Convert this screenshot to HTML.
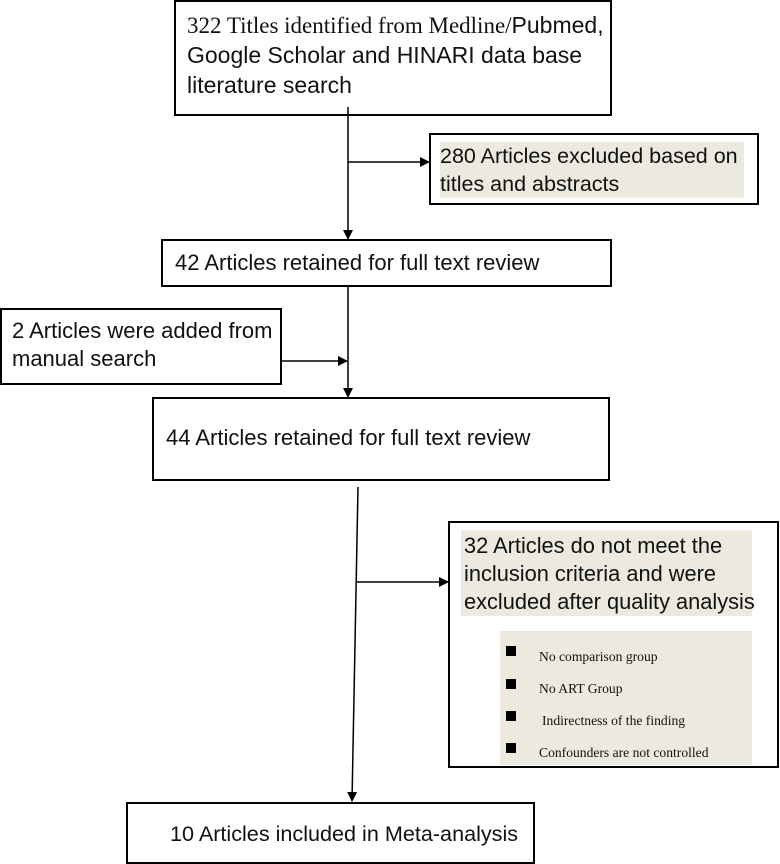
<!DOCTYPE html>
<html><head><meta charset="utf-8"><style>
html,body{margin:0;padding:0;background:#fff;width:780px;height:864px;overflow:hidden}
svg{display:block}
text{font-family:"Liberation Sans",sans-serif;fill:#111}
.s{font-family:"Liberation Serif",serif}
</style></head><body>
<svg width="780" height="864" viewBox="0 0 780 864">
<defs><marker id="a" markerWidth="10" markerHeight="10" refX="9" refY="5" orient="auto" markerUnits="userSpaceOnUse"><path d="M0,0 L10,5 L0,10 Z" fill="#000"/></marker></defs>
<g fill="none" stroke="#000" stroke-width="2">
<rect x="175" y="1" width="436" height="114"/>
<rect x="430" y="134" width="328" height="70"/>
<rect x="162" y="240" width="449" height="46"/>
<rect x="1" y="309" width="280" height="75"/>
<rect x="153" y="398" width="456" height="82"/>
<rect x="449" y="522" width="329" height="245"/>
<rect x="127" y="803" width="407" height="60"/>
</g>
<rect x="440" y="142" width="304" height="56" fill="#ece9df"/>
<rect x="461" y="530" width="291" height="86" fill="#ece9df"/>
<rect x="500" y="631" width="252" height="134" fill="#ece9df"/>
<g stroke="#000" stroke-width="1.5">
<line x1="348" y1="107" x2="348" y2="239" marker-end="url(#a)"/>
<line x1="348" y1="162" x2="429" y2="162" marker-end="url(#a)"/>
<line x1="348" y1="286" x2="348" y2="397" marker-end="url(#a)"/>
<line x1="281" y1="361" x2="347" y2="361" marker-end="url(#a)"/>
<line x1="358" y1="487" x2="352" y2="801" marker-end="url(#a)"/>
<line x1="357" y1="582" x2="448" y2="582" marker-end="url(#a)"/>
</g>
<text x="187" y="33" font-size="23"><tspan style="font-family:'Liberation Serif',serif">322 Titles identified from Medline/</tspan>Pubmed,</text>
<text x="187" y="63" font-size="23">Google Scholar and HINARI data base</text>
<text x="187" y="93" font-size="23">literature search</text>
<text x="440" y="163" font-size="21.5">280 Articles excluded based on</text>
<text x="440" y="191" font-size="21.5">titles and abstracts</text>
<text x="175" y="270" font-size="22">42 Articles retained for full text review</text>
<text x="12" y="338" font-size="22">2 Articles were added from</text>
<text x="12" y="366" font-size="22">manual search</text>
<text x="166" y="445" font-size="22">44 Articles retained for full text review</text>
<text x="464" y="553" font-size="21.8">32 Articles do not meet the</text>
<text x="464" y="581" font-size="21.8">inclusion criteria and were</text>
<text x="464" y="609" font-size="21.8">excluded after quality analysis</text>
<g fill="#000"><rect x="506" y="646" width="10" height="10"/><rect x="506" y="679" width="10" height="10"/><rect x="506" y="711" width="10" height="10"/><rect x="506" y="743" width="10" height="10"/></g>
<g font-size="13.6">
<text class="s" x="539" y="661">No comparison group</text>
<text class="s" x="539" y="693">No ART Group</text>
<text class="s" x="542" y="725">Indirectness of the finding</text>
<text class="s" x="539" y="757">Confounders are not controlled</text>
</g>
<text x="170" y="841" font-size="21.6">10 Articles included in Meta-analysis</text>
</svg>
</body></html>
